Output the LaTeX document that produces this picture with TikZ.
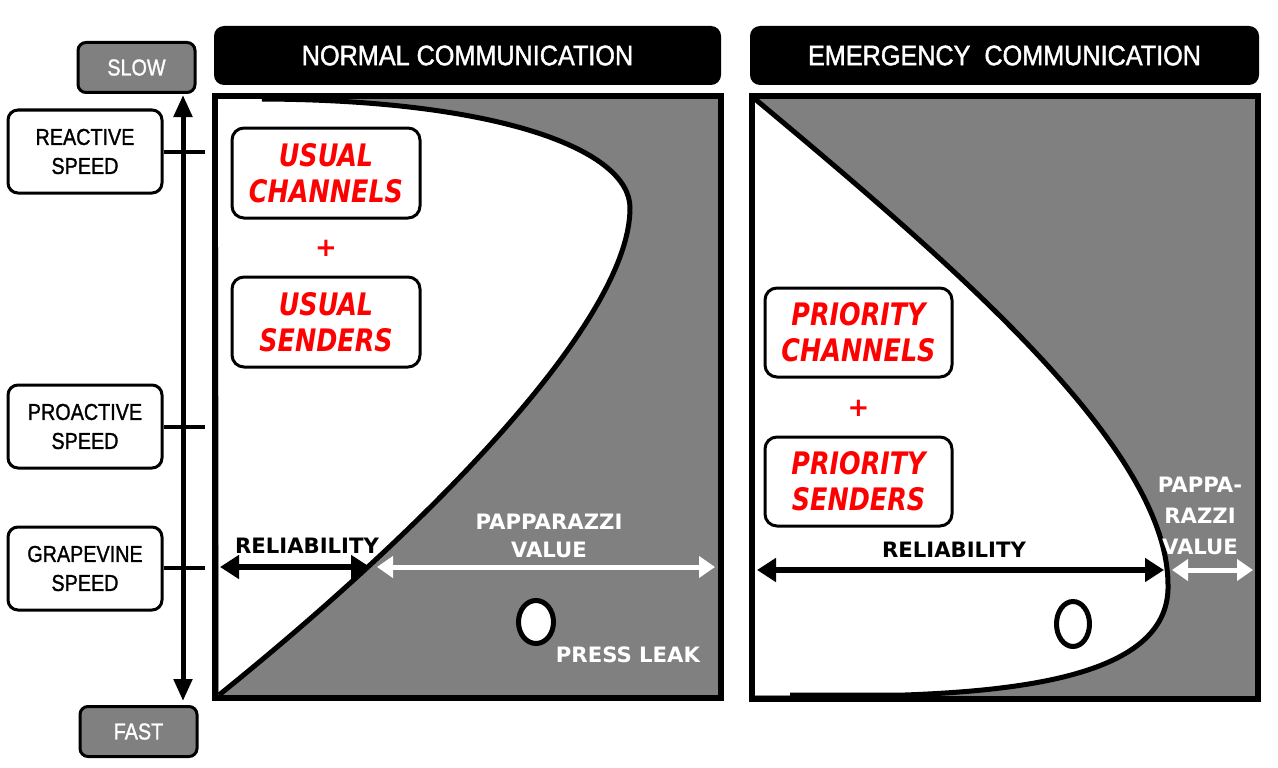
\documentclass[tikz,border=0pt]{standalone}
\usepackage{fontspec}
\setmainfont{Liberation Sans}
\newfontfamily\arialc[FakeStretch=0.86,FakeBold=1.2]{Liberation Sans}
\newfontfamily\titlef[FakeStretch=0.9,FakeBold=1.5]{Liberation Sans}
\newfontfamily\verd{DejaVu Sans}
\newfontfamily\redf[FakeStretch=0.82]{DejaVu Sans}
\usetikzlibrary{arrows.meta,shapes.geometric}
\definecolor{pgray}{HTML}{808080}
\definecolor{pred}{HTML}{FF0000}
\tikzset{
  lbox/.style={draw=black, line width=3pt, rounded corners=10pt, fill=white, minimum width=154pt, minimum height=83pt, inner sep=0pt, align=center, font=\arialc\fontsize{23}{29}\selectfont},
  gbox/.style={draw=black, line width=3pt, rounded corners=8pt, fill=pgray, text=white, minimum width=117pt, minimum height=50pt, inner sep=0pt, font=\arialc\fontsize{23}{27}\selectfont},
  tbar/.style={fill=black, rounded corners=10pt, text=white, minimum height=59pt, inner sep=0pt, font=\titlef\fontsize{28}{30}\selectfont},
  rbox/.style={draw=black, line width=3pt, rounded corners=12pt, fill=white, text=pred, minimum width=188pt, minimum height=90pt, inner sep=0pt, align=center, font=\redf\bfseries\itshape\fontsize{31}{36}\selectfont},
  plus/.style={text=pred, inner sep=0pt, font=\verd\bfseries\fontsize{26}{30}\selectfont},
  blab/.style={inner sep=0pt, align=center, font=\verd\bfseries\fontsize{21.2}{28}\selectfont},
  panel/.style={draw=black, line width=6pt},
  curveline/.style={draw=black, line width=5pt},
  tick/.style={draw=black, line width=4pt},
  vaxis/.style={line width=5pt, {Triangle[length=22pt,width=18pt]}-{Triangle[length=22pt,width=18pt]}},
  relarrow/.style={line width=6pt, {Triangle[length=19pt,width=23pt]}-{Triangle[length=19pt,width=23pt]}},
  wharrow/.style={draw=white, line width=5pt, {Triangle[length=16pt,width=21pt]}-{Triangle[length=16pt,width=21pt]}},
  oval/.style={draw=black, line width=5pt, fill=white}
}
\begin{document}
\begin{tikzpicture}[x=1pt,y=-1pt]
\useasboundingbox (0,0) rectangle (1278,768);
\fill[white] (0,0) rectangle (1278,768);

% ---------- left scale ----------
\node[gbox] (slow) at (136.5,67.5) {SLOW};
\node[gbox] (fast) at (138.5,731.5) {FAST};
\node[lbox] (reactive) at (85,151.5) {REACTIVE\\SPEED};
\node[lbox] (proactive) at (85,426.5) {PROACTIVE\\SPEED};
\node[lbox] (grapevine) at (85,568.5) {GRAPEVINE\\SPEED};
\coordinate (axtop) at (183,95);
\coordinate (axbot) at (183,701);
\draw[vaxis] (axtop) -- (axbot);
\coordinate (tk1) at (205,152);
\coordinate (tk2) at (205,427);
\coordinate (tk3) at (205,568);
\draw[tick] (reactive.east |- tk1) -- (tk1);
\draw[tick] (proactive.east |- tk2) -- (tk2);
\draw[tick] (grapevine.east |- tk3) -- (tk3);

% ---------- titles ----------
\node[tbar, minimum width=507pt] (t1) at (467.5,55.5) {NORMAL COMMUNICATION};
\node[tbar, minimum width=509pt] (t2) at (1004.5,55.5) {EMERGENCY~~COMMUNICATION};

% ---------- left panel ----------
\fill[pgray] (215,96) rectangle (721,698);
\fill[white] (218,99) -- (262,99) .. controls (500,100) and (630,150) .. (630,208)
  .. controls (630,320) and (430,525) .. (219,695) -- cycle;
\draw[curveline] (262,99) .. controls (500,100) and (630,150) .. (630,208)
  .. controls (630,320) and (430,525) .. (219,695);
\draw[panel] (215,96) rectangle (721,698);

\node[rbox] (uc) at (326,173) {USUAL\\CHANNELS};
\node[plus] (p1) at (326,248) {+};
\node[rbox] (us) at (326,322) {USUAL\\SENDERS};

\coordinate (l1) at (220,567);
\coordinate (l2) at (370,567);
\coordinate (l3) at (377,567);
\coordinate (l4) at (715,567);
\draw[relarrow] (l1) -- (l2);
\draw[wharrow] (l3) -- (l4);
\node[blab] (rel1) at (307,546) {RELIABILITY};
\node[blab, text=white] (pap1) at (549,536) {PAPPARAZZI\\VALUE};
\node[oval, ellipse, minimum width=35pt, minimum height=43pt, inner sep=0pt] (leak) at (536,622) {};
\node[blab, text=white] (pl) at (628,655) {PRESS LEAK};

% ---------- right panel ----------
\fill[pgray] (752,96) rectangle (1258,699);
\fill[white] (755,99) .. controls (960,270) and (1168,450) .. (1168,585)
  .. controls (1170,670) and (1040,690) .. (905,695) -- (755,695) -- cycle;
\draw[curveline] (755,99) .. controls (960,270) and (1168,450) .. (1168,585)
  .. controls (1170,670) and (1040,690) .. (905,695) -- (790,695);
\draw[panel] (752,96) rectangle (1258,699);

\node[rbox, minimum width=187pt, minimum height=89pt] (pc) at (858.5,332.5) {PRIORITY\\CHANNELS};
\node[plus] (p2) at (858.5,408) {+};
\node[rbox, minimum width=187pt, minimum height=89pt] (ps) at (858.5,481.5) {PRIORITY\\SENDERS};

\coordinate (r1) at (757,570);
\coordinate (r2) at (1164,570);
\coordinate (r3) at (1172,570);
\coordinate (r4) at (1253,570);
\draw[relarrow] (r1) -- (r2);
\draw[wharrow] (r3) -- (r4);
\node[blab] (rel2) at (954,550) {RELIABILITY};
\node[blab, text=white, font=\verd\bfseries\fontsize{21.2}{31}\selectfont] (pap2) at (1200,516) {PAPPA-\\RAZZI\\VALUE};
\node[draw=black, line width=5pt, ellipse, minimum width=33pt, minimum height=45pt, inner sep=0pt] (ov2) at (1073,624) {};
\end{tikzpicture}
\end{document}
